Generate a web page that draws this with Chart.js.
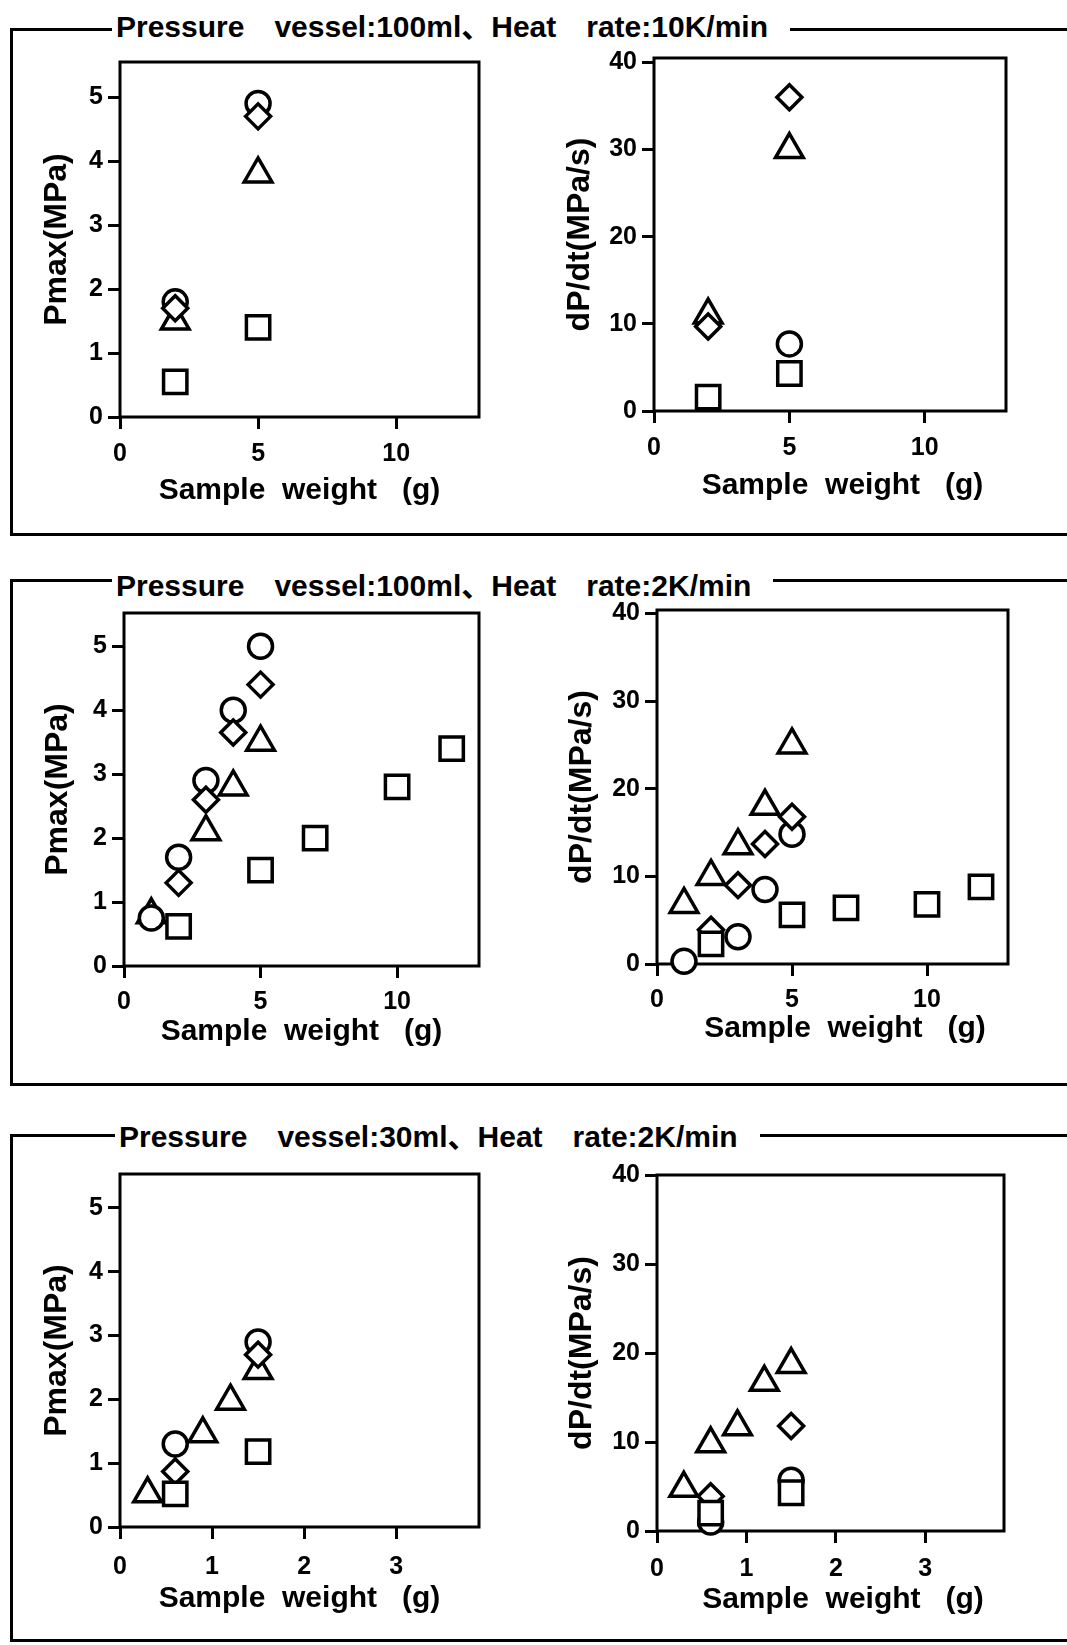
<!DOCTYPE html>
<html><head><meta charset="utf-8">
<script src="https://cdn.jsdelivr.net/npm/chart.js@4.4.1/dist/chart.umd.min.js"></script>
<style>
html,body{margin:0;padding:0;background:#fff;}
body{width:1067px;height:1645px;position:relative;overflow:hidden;}
.frame{position:absolute;border:3px solid #000;box-sizing:border-box;}
.ttl{position:absolute;background:#fff;font-family:"Liberation Sans","Noto Sans CJK JP",sans-serif;font-weight:bold;font-size:30px;line-height:30px;white-space:pre;padding:0 22px 0 4px;color:#000;}
canvas{position:absolute;}
</style></head><body>
<script>
// ---------- DATA ----------
const groupTitles = [
  "Pressure\u3000vessel:100ml\u3001Heat\u3000rate:10K/min",
  "Pressure\u3000vessel:100ml\u3001Heat\u3000rate:2K/min",
  "Pressure\u3000vessel:30ml\u3001Heat\u3000rate:2K/min"
];
const xTitle = "Sample  weight   (g)";
const yTitlePmax = "Pmax(MPa)";
const yTitleDpdt = "dP/dt(MPa/s)";
const xTicks100 = [0, 5, 10];
const xTicks30 = [0, 1, 2, 3];
const pmaxTicks = [0, 1, 2, 3, 4, 5];
const dpdtTicks = [0, 10, 20, 30, 40];

// 100 ml, 10 K/min : Pmax
const p1Circle   = [[2, 1.8], [5, 4.9]];
const p1Diamond  = [[2, 1.7], [5, 4.7]];
const p1Triangle = [[2, 1.5], [5, 3.8]];
const p1Square   = [[2, 0.55], [5, 1.4]];
// 100 ml, 10 K/min : dP/dt
const p2Circle   = [[5, 7.7]];
const p2Diamond  = [[2, 9.7], [5, 36]];
const p2Triangle = [[2, 11], [5, 30]];
const p2Square   = [[2, 1.6], [5, 4.3]];
// 100 ml, 2 K/min : Pmax
const p3Circle   = [[1, 0.75], [2, 1.7], [3, 2.9], [4, 4.0], [5, 5.0]];
const p3Diamond  = [[2, 1.3], [3, 2.6], [4, 3.65], [5, 4.4]];
const p3Triangle = [[1, 0.8], [3, 2.1], [4, 2.8], [5, 3.5]];
const p3Square   = [[2, 0.62], [5, 1.5], [7, 2.0], [10, 2.8], [12, 3.4]];
// 100 ml, 2 K/min : dP/dt
const p4Circle   = [[1, 0.3], [3, 3.1], [4, 8.5], [5, 14.8]];
const p4Diamond  = [[2, 3.9], [3, 9.0], [4, 13.7], [5, 16.8]];
const p4Triangle = [[1, 6.8], [2, 10], [3, 13.5], [4, 18], [5, 25]];
const p4Square   = [[2, 2.3], [5, 5.6], [7, 6.4], [10, 6.8], [12, 8.8]];
// 30 ml, 2 K/min : Pmax
const p5Circle   = [[0.6, 1.3], [1.5, 2.9]];
const p5Diamond  = [[0.6, 0.87], [1.5, 2.7]];
const p5Triangle = [[0.3, 0.52], [0.9, 1.46], [1.2, 1.97], [1.5, 2.45]];
const p5Square   = [[0.6, 0.52], [1.5, 1.18]];
// 30 ml, 2 K/min : dP/dt
const p6Circle   = [[0.6, 1.0], [1.5, 5.7]];
const p6Diamond  = [[0.6, 3.9], [1.5, 11.8]];
const p6Triangle = [[0.3, 4.8], [0.6, 9.8], [0.9, 11.7], [1.2, 16.7], [1.5, 18.7]];
const p6Square   = [[0.6, 2.0], [1.5, 4.3]];

// ---------- LAYOUT ----------
const frames = [
  {top: 29, bottom: 534, titleLeft: 112, titleTop: 12},
  {top: 580, bottom: 1084, titleLeft: 112, titleTop: 571},
  {top: 1135, bottom: 1640, titleLeft: 115, titleTop: 1122}
];
frames.forEach((f, i) => {
  const d = document.createElement('div');
  d.className = 'frame';
  d.style.left = '10px';
  d.style.top = (f.top - 1.5) + 'px';
  d.style.width = '1100px';
  d.style.height = (f.bottom - f.top + 3) + 'px';
  document.body.appendChild(d);
  const s = document.createElement('span');
  s.className = 'ttl';
  s.style.left = f.titleLeft + 'px';
  s.style.top = f.titleTop + 'px';
  s.textContent = groupTitles[i];
  document.body.appendChild(s);
});

const shapeStyle = {
  circle:   {style: 'circle',  r: 12,   order: 2},
  diamond:  {style: 'rectRot', r: 12.5, order: 1},
  triangle: {style: 'triangle', r: 16,  order: 3},
  square:   {style: 'rect',    r: 16.5, order: 0}
};

const boxPlugin = {
  id: 'box',
  beforeDatasetsDraw(chart) {
    const {ctx, chartArea: a} = chart;
    ctx.save();
    ctx.strokeStyle = '#000';
    ctx.lineWidth = 3;
    ctx.strokeRect(a.left, a.top, a.right - a.left, a.bottom - a.top);
    ctx.restore();
  }
};

const panels = [
  {l: 120, t: 62, r: 479, b: 417, xT: xTicks100, xMax: 13, yT: pmaxTicks, yMax: 5.55, yTitle: yTitlePmax,
   xtp: 10.5, xtb: 8, ytp: 27.5, lead: 0,
   s: {circle: p1Circle, diamond: p1Diamond, triangle: p1Triangle, square: p1Square}},
  {l: 654, t: 58, r: 1006, b: 411, xT: xTicks100, xMax: 13, yT: dpdtTicks, yMax: 40.5, yTitle: yTitleDpdt,
   xtp: 10.6, xtb: 7, ytp: 16.5, lead: 3,
   s: {circle: p2Circle, diamond: p2Diamond, triangle: p2Triangle, square: p2Square}},
  {l: 124, t: 613, r: 479, b: 966, xT: xTicks100, xMax: 13, yT: pmaxTicks, yMax: 5.52, yTitle: yTitlePmax,
   xtp: 9, xtb: 16.5, ytp: 25, lead: 0,
   s: {circle: p3Circle, diamond: p3Diamond, triangle: p3Triangle, square: p3Square}},
  {l: 657, t: 610, r: 1008, b: 964, xT: xTicks100, xMax: 13, yT: dpdtTicks, yMax: 40.4, yTitle: yTitleDpdt,
   xtp: 9, xtb: 17, ytp: 15.5, lead: 3,
   s: {circle: p4Circle, diamond: p4Diamond, triangle: p4Triangle, square: p4Square}},
  {l: 120, t: 1174, r: 479, b: 1527, xT: xTicks30, xMax: 3.9, yT: pmaxTicks, yMax: 5.53, yTitle: yTitlePmax,
   xtp: 13.6, xtb: 10.4, ytp: 27.5, lead: 0,
   s: {circle: p5Circle, diamond: p5Diamond, triangle: p5Triangle, square: p5Square}},
  {l: 657, t: 1175, r: 1004, b: 1531, xT: xTicks30, xMax: 3.88, yT: dpdtTicks, yMax: 40, yTitle: yTitleDpdt,
   xtp: 11, xtb: 13.3, ytp: 15.5, lead: 3,
   s: {circle: p6Circle, diamond: p6Diamond, triangle: p6Triangle, square: p6Square}}
];

const tickFont = {family: 'Liberation Sans', size: 25, weight: 'bold'};
const gridOpts = {display: true, drawOnChartArea: false, drawTicks: true, tickLength: 12, tickWidth: 3, tickColor: '#000', color: '#000'};

panels.forEach(p => {
  const cv = document.createElement('canvas');
  const L = p.l - 110, T = p.t - 20;
  const W = p.r - p.l + 130, H = p.b - p.t + 120;
  cv.width = W; cv.height = H;
  cv.style.left = L + 'px'; cv.style.top = T + 'px';
  cv.style.width = W + 'px'; cv.style.height = H + 'px';
  document.body.appendChild(cv);
  const datasets = Object.keys(p.s).map(k => ({
    label: k,
    data: p.s[k].map(([x, y]) => ({x, y})),
    pointStyle: shapeStyle[k].style,
    pointRadius: shapeStyle[k].r,
    pointHoverRadius: shapeStyle[k].r,
    pointBorderWidth: 3.5,
    pointHoverBorderWidth: 3.5,
    pointBorderColor: '#000',
    pointBackgroundColor: '#fff',
    showLine: false,
    order: shapeStyle[k].order,
    clip: false
  }));
  const xT = p.xT, yT = p.yT;
  new Chart(cv, {
    type: 'scatter',
    data: {datasets},
    plugins: [boxPlugin],
    options: {
      responsive: false, animation: false, devicePixelRatio: 1, events: [],
      plugins: {legend: {display: false}, tooltip: {enabled: false}},
      layout: {padding: {left: 0, top: 20, right: 20, bottom: 0}},
      scales: {
        x: {
          type: 'linear', min: 0, max: p.xMax,
          afterBuildTicks: s => { s.ticks = xT.map(v => ({value: v})); },
          afterFit: s => { s.height = 100; },
          grid: gridOpts, border: {display: false},
          ticks: {color: '#000', font: tickFont, padding: p.xtp, maxRotation: 0, autoSkip: false},
          title: {display: true, text: ' '.repeat(p.lead) + xTitle, color: '#000',
                  font: {family: 'Liberation Sans', size: 30, weight: 'bold'},
                  padding: {top: 0, bottom: p.xtb}}
        },
        y: {
          type: 'linear', min: 0, max: p.yMax,
          afterBuildTicks: s => { s.ticks = yT.map(v => ({value: v})); },
          afterFit: s => { s.width = 110; },
          grid: gridOpts, border: {display: false},
          ticks: {color: '#000', font: tickFont, padding: 5, autoSkip: false},
          title: {display: true, text: p.yTitle, color: '#000',
                  font: {family: 'Liberation Sans', size: 32, weight: 'bold'},
                  padding: {top: p.ytp, bottom: 0}}
        }
      }
    }
  });
});
</script>
</body></html>
